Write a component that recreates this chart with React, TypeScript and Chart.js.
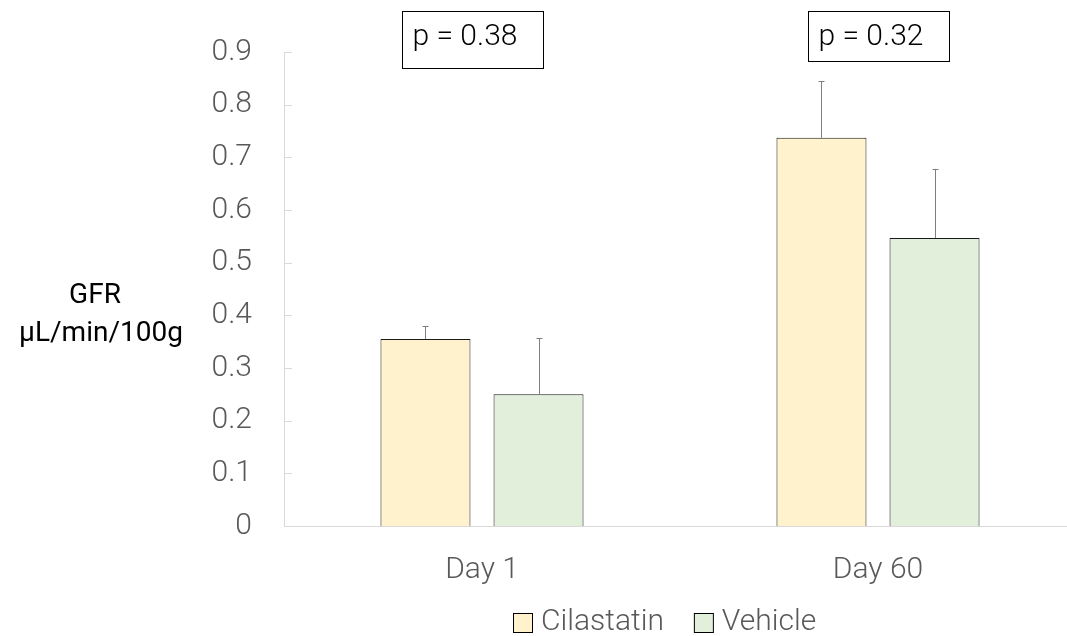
import React, { useEffect, useRef } from "react";
import { Chart, registerables } from "chart.js";

Chart.register(...registerables);

const categories = ["Day 1", "Day 60"];
const seriesNames = ["Cilastatin", "Vehicle"];
const cilastatinValues = [0.355, 0.737];
const vehicleValues = [0.25, 0.547];
const cilastatinErrors = [0.025, 0.108];
const vehicleErrors = [0.107, 0.131];
const pValueLabels = ["p = 0.38", "p = 0.32"];
const yTicks = [0, 0.1, 0.2, 0.3, 0.4, 0.5, 0.6, 0.7, 0.8, 0.9];
const yTitleLines = ["GFR", "µL/min/100g"];

const FONT = "Roboto, Lato, sans-serif";

export default function App() {
  const ref = useRef<HTMLCanvasElement>(null);

  useEffect(() => {
    if (!ref.current) return;
    const errors = [cilastatinErrors, vehicleErrors];

    const errorBars = {
      id: "errorBars",
      afterDatasetsDraw(chart: any) {
        const ctx = chart.ctx;
        const y = chart.scales.y;
        ctx.save();
        ctx.strokeStyle = "#7f7f7f";
        ctx.lineWidth = 1;
        chart.data.datasets.forEach((ds: any, i: number) => {
          const meta = chart.getDatasetMeta(i);
          meta.data.forEach((el: any, j: number) => {
            const top = y.getPixelForValue(ds.data[j] + errors[i][j]);
            const x = Math.round(el.x) + 0.5;
            ctx.beginPath();
            ctx.moveTo(x, el.y);
            ctx.lineTo(x, top);
            ctx.moveTo(x - 3, Math.round(top) + 0.5);
            ctx.lineTo(x + 3, Math.round(top) + 0.5);
            ctx.stroke();
          });
        });
        ctx.restore();
      },
    };

    const annotations = {
      id: "annotations",
      afterDraw(chart: any) {
        const ctx = chart.ctx;
        const xs = chart.scales.x;
        const area = chart.chartArea;
        ctx.save();
        // p-value boxes
        pValueLabels.forEach((label, j) => {
          const cx = xs.getPixelForValue(j) - (j === 0 ? 10 : 0);
          const w = 141;
          const left = Math.round(cx - w / 2) + 0.5;
          const top = 11.5;
          const h = j === 0 ? 57 : 50;
          ctx.strokeStyle = "#000";
          ctx.lineWidth = 1;
          ctx.strokeRect(left, top, w, h);
          ctx.fillStyle = "#000";
          ctx.font = `300 30px ${FONT}`;
          ctx.textAlign = "left";
          ctx.textBaseline = "middle";
          ctx.fillText(label, left + 10, 37);
        });
        // inner y ticks
        const ys = chart.scales.y;
        ctx.strokeStyle = "#d9d9d9";
        ctx.lineWidth = 1;
        yTicks.forEach((v) => {
          const py = Math.round(ys.getPixelForValue(v)) + 0.5;
          ctx.beginPath();
          ctx.moveTo(area.left, py);
          ctx.lineTo(area.left + 8, py);
          ctx.stroke();
        });
        // y title
        ctx.fillStyle = "#000";
        ctx.font = `400 28px ${FONT}`;
        ctx.textAlign = "center";
        ctx.textBaseline = "middle";
        ctx.fillText(yTitleLines[0], 95, 296);
        ctx.fillText(yTitleLines[1], 101, 334);
        // legend
        ctx.font = `300 30px ${FONT}`;
        ctx.textAlign = "left";
        let x = area.left + 229;
        const cy = 622;
        chart.data.datasets.forEach((ds: any) => {
          ctx.fillStyle = ds.backgroundColor;
          ctx.fillRect(x, cy - 9, 19, 19);
          ctx.strokeStyle = "#000";
          ctx.strokeRect(x + 0.5, cy - 9 + 0.5, 19, 19);
          ctx.fillStyle = "#595959";
          ctx.fillText(ds.label, x + 28, cy);
          x += 28 + ctx.measureText(ds.label).width + 30;
        });
        ctx.restore();
      },
    };

    const chart = new Chart(ref.current, {
      type: "bar",
      data: {
        labels: categories,
        datasets: [
          {
            label: seriesNames[0],
            data: cilastatinValues,
            backgroundColor: "#FFF2CC",
            borderColor: "#1a1a1a",
            borderWidth: 1,
            barPercentage: 0.796,
            categoryPercentage: 0.571,
          },
          {
            label: seriesNames[1],
            data: vehicleValues,
            backgroundColor: "#E2EFDA",
            borderColor: "#1a1a1a",
            borderWidth: 1,
            barPercentage: 0.796,
            categoryPercentage: 0.571,
          },
        ],
      },
      options: {
        responsive: false,
        animation: false,
        layout: { padding: { top: 52, right: 14, left: 0, bottom: 0 } },
        plugins: {
          legend: { display: false },
          tooltip: { enabled: false },
        },
        scales: {
          x: {
            grid: { display: false, drawTicks: false },
            border: { display: true, color: "#d9d9d9" },
            ticks: {
              color: "#595959",
              font: { family: FONT, size: 30, weight: "300" },
              padding: 26,
            },
            afterFit: (s: any) => {
              s.height = 110;
            },
          },
          y: {
            min: 0,
            max: 0.9,
            grid: { display: false, drawTicks: false },
            border: { display: true, color: "#d9d9d9" },
            ticks: {
              stepSize: 0.1,
              color: "#595959",
              font: { family: FONT, size: 30, weight: "300" },
              padding: 32,
              callback: (v: any) => {
                const n = Math.round(Number(v) * 10) / 10;
                return n === 0 ? "0" : String(n);
              },
            },
            afterFit: (s: any) => {
              s.width = 284;
            },
          },
        },
      },
      plugins: [errorBars, annotations],
    });
    return () => chart.destroy();
  }, []);

  return (
    <div
      style={{
        position: "absolute",
        left: 0,
        top: 0,
        width: 1067,
        height: 636,
        overflow: "hidden",
        background: "#fff",
      }}
    >
      <canvas ref={ref} width={1090} height={636} style={{ width: 1090, height: 636 }} />
    </div>
  );
}
